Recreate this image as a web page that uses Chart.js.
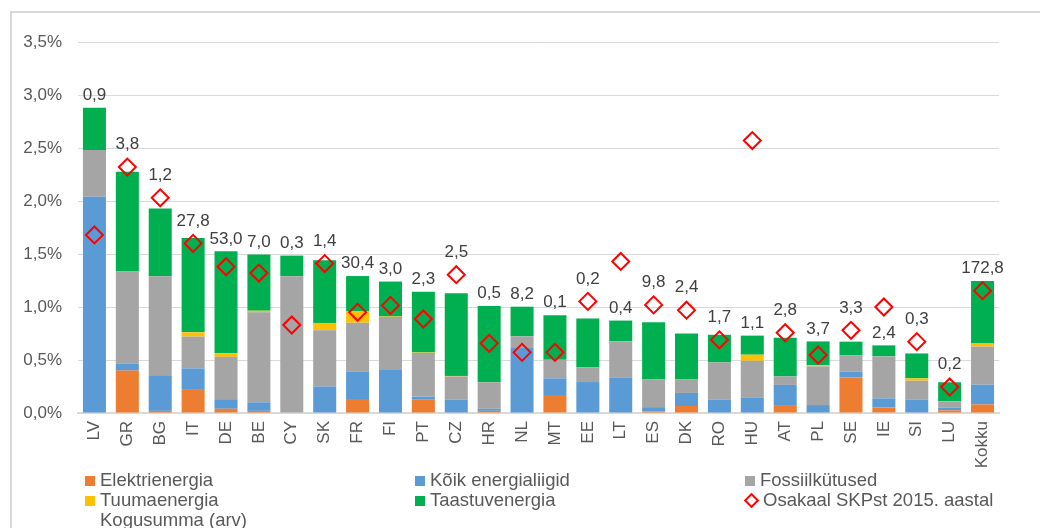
<!DOCTYPE html>
<html>
<head>
<meta charset="utf-8">
<script src="https://cdn.jsdelivr.net/npm/chart.js@4/dist/chart.umd.min.js"></script>
<style>
  body { margin: 0; background: #fff; font-family: "Liberation Sans", Arial, sans-serif; }
  #wrap { position: relative; width: 1040px; height: 528px; overflow: hidden; }
  #frame { position: absolute; left: 10px; top: 11px; width: 1100px; height: 600px; border: 2px solid #d9d9d9; }
  #plot { position: absolute; left: 0; top: 0; }
  #legend { position: absolute; left: 85px; top: 470px; display: grid; grid-template-columns: 330px 330px 330px; font-size: 18.5px; line-height: 20px; color: #595959; }
  #legend div { white-space: nowrap; }
  #legend span.box { display: inline-block; width: 10px; height: 10px; margin-right: 5px; vertical-align: 0px; }
</style>
</head>
<body>
<div id="wrap">
  <div id="frame"></div>
  <canvas id="plot" width="1040" height="528"></canvas>
  <div id="legend"></div>
</div>
<script>
var riigid = ["LV","GR","BG","IT","DE","BE","CY","SK","FR","FI","PT","CZ","HR","NL","MT","EE","LT","ES","DK","RO","HU","AT","PL","SE","IE","SI","LU","Kokku"];

// osakaal SKPst, %
var elektri  = [0, 0.40, 0.02, 0.226, 0.04, 0.02, 0, 0, 0.132, 0, 0.125, 0, 0.02, 0, 0.17, 0, 0, 0.015, 0.066, 0, 0, 0.075, 0, 0.336, 0.053, 0, 0.025, 0.081];
var koik     = [2.04, 0.065, 0.33, 0.195, 0.09, 0.08, 0, 0.25, 0.26, 0.405, 0.03, 0.125, 0.02, 0.613, 0.157, 0.292, 0.336, 0.04, 0.123, 0.128, 0.147, 0.19, 0.075, 0.054, 0.085, 0.128, 0.025, 0.186];
var fossiil  = [0.44, 0.87, 0.94, 0.30, 0.40, 0.85, 1.29, 0.53, 0.46, 0.50, 0.41, 0.22, 0.25, 0.11, 0.176, 0.14, 0.34, 0.26, 0.128, 0.35, 0.346, 0.08, 0.365, 0.153, 0.396, 0.177, 0.06, 0.36];
var tuuma    = [0, 0, 0, 0.04, 0.035, 0.015, 0, 0.07, 0.11, 0.005, 0.005, 0.005, 0, 0, 0, 0, 0, 0, 0, 0, 0.057, 0, 0.01, 0, 0, 0.022, 0, 0.029];
var taastuv  = [0.40, 0.94, 0.64, 0.89, 0.96, 0.53, 0.195, 0.59, 0.33, 0.33, 0.575, 0.78, 0.72, 0.28, 0.42, 0.46, 0.196, 0.54, 0.434, 0.26, 0.18, 0.365, 0.225, 0.13, 0.104, 0.235, 0.18, 0.59];
var skp2015  = [1.68, 2.32, 2.03, 1.60, 1.38, 1.32, 0.83, 1.41, 0.95, 1.015, 0.887, 1.305, 0.657, 0.572, 0.572, 1.053, 1.43, 1.02, 0.97, 0.69, 2.57, 0.757, 0.547, 0.78, 1.0, 0.673, 0.245, 1.154];
// kogusumma (arv)
var kogusumma = [0.9, 3.8, 1.2, 27.8, 53.0, 7.0, 0.3, 1.4, 30.4, 3.0, 2.3, 2.5, 0.5, 8.2, 0.1, 0.2, 0.4, 9.8, 2.4, 1.7, 1.1, 2.8, 3.7, 3.3, 2.4, 0.3, 0.2, 172.8];

var yTicks = [0, 0.5, 1.0, 1.5, 2.0, 2.5, 3.0, 3.5];

function komaga(v) { return v.toFixed(1).replace(".", ","); }

var fontName = "'Liberation Sans', Arial, sans-serif";

function bar(label, data, color) {
	return { type: "bar", label: label, data: data, backgroundColor: color, stack: "s", order: 2,
		barPercentage: 0.7, categoryPercentage: 1 };
}

var datasets = [
	bar("Elektrienergia", elektri, "#ED7D31"),
	bar("Kõik energialiigid", koik, "#5B9BD5"),
	bar("Fossiilkütused", fossiil, "#A5A5A5"),
	bar("Tuumaenergia", tuuma, "#FFC000"),
	bar("Taastuvenergia", taastuv, "#00B050"),
	{
		type: "line", label: "Osakaal SKPst 2015. aastal", data: skp2015, stack: "skp", order: 0,
		showLine: false, pointStyle: "rectRot", pointRadius: 8.5, pointBorderWidth: 2,
		pointBorderColor: "#FF0000", pointBackgroundColor: "rgba(0,0,0,0)"
	}
];

// kogusumma numbrid tulpade kohale
var summaLabels = {
	id: "summaLabels",
	afterDatasetsDraw: function(chart) {
		var ctx = chart.ctx;
		var y = chart.scales.y;
		var x = chart.scales.x;
		ctx.save();
		ctx.font = "17px " + fontName;
		ctx.fillStyle = "#404040";
		ctx.textAlign = "center";
		ctx.textBaseline = "bottom";
		for (var i = 0; i < riigid.length; i++) {
			var total = elektri[i] + koik[i] + fossiil[i] + tuuma[i] + taastuv[i];
			var top = y.getPixelForValue(total);
			var dy = y.getPixelForValue(skp2015[i]);
			var d = dy - top;
			if (d > -30 && d < 11) top = Math.min(top, dy - 10);
			ctx.fillText(komaga(kogusumma[i]), x.getPixelForValue(i), top - 4);
		}
		ctx.restore();
	}
};

var ctx = document.getElementById("plot").getContext("2d");
var chart = new Chart(ctx, {
	data: { labels: riigid, datasets: datasets },
	plugins: [summaLabels],
	options: {
		responsive: false,
		animation: false,
		layout: { padding: { left: 0, right: 41, top: 42, bottom: 0 } },
		plugins: { legend: { display: false }, tooltip: { enabled: false } },
		scales: {
			x: {
				stacked: true,
				grid: { display: false, drawTicks: false },
				border: { color: "#d9d9d9", width: 2 },
				ticks: { color: "#595959", font: { size: 17, family: fontName }, maxRotation: 90, minRotation: 90, padding: 8, autoSkip: false },
				afterFit: function(s) { s.height = 115; }
			},
			y: {
				stacked: true,
				min: 0, max: 3.5,
				afterBuildTicks: function(s) { s.ticks = yTicks.map(function(v) { return { value: v }; }); },
				grid: { color: "#d9d9d9", lineWidth: 1, drawTicks: false },
				border: { display: false },
				ticks: { color: "#595959", font: { size: 17, family: fontName }, padding: 16,
					callback: function(v) { return komaga(v) + "%"; } },
				afterFit: function(s) { s.width = 78; }
			}
		}
	}
});

// legend in three columns
var legendItems = [
	["Elektrienergia", "#ED7D31"], ["Kõik energialiigid", "#5B9BD5"], ["Fossiilkütused", "#A5A5A5"],
	["Tuumaenergia", "#FFC000"], ["Taastuvenergia", "#00B050"], ["Osakaal SKPst 2015. aastal", "diamond"],
	["Kogusumma (arv)", null]
];
var leg = document.getElementById("legend");
legendItems.forEach(function(it) {
	var d = document.createElement("div");
	var b = document.createElement("span");
	b.className = "box";
	if (it[1] === "diamond") {
		b.style.width = "7px"; b.style.height = "7px"; b.style.border = "2px solid #FF0000";
		b.style.transform = "rotate(45deg)"; b.style.marginLeft = "1px"; b.style.marginRight = "6px";
	} else if (it[1]) {
		b.style.background = it[1];
	} else {
		b.style.visibility = "hidden";
	}
	d.appendChild(b);
	d.appendChild(document.createTextNode(it[0]));
	leg.appendChild(d);
});
</script>
</body>
</html>
